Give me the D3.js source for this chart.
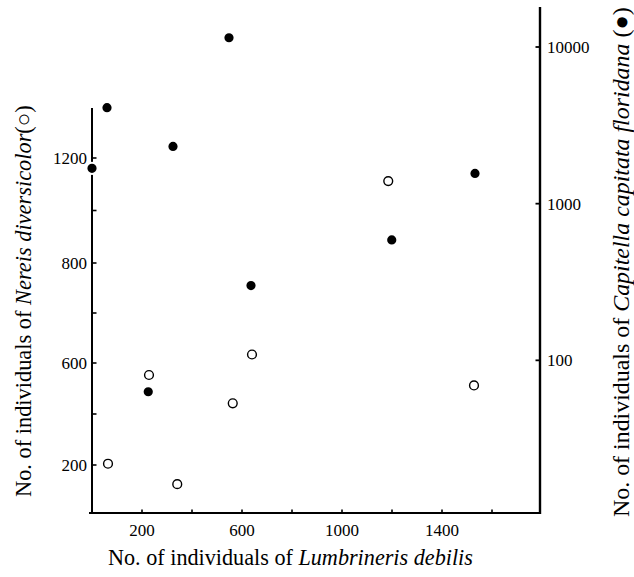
<!DOCTYPE html>
<html>
<head>
<meta charset="utf-8">
<script src="https://cdn.jsdelivr.net/npm/d3@7"></script>
<style>
  html, body { margin: 0; padding: 0; background: #fff; }
  svg { display: block; }
  text { font-family: "Liberation Serif", "Times New Roman", serif; fill: #000; }
</style>
</head>
<body>
<svg id="chart" width="634" height="577"></svg>
<script>
// ---- data ----
// Capitella capitata floridana (filled dots, right log axis)
const capitellaX = [0, 60, 225, 324, 548, 636, 1199, 1532];
const capitellaY = [1680, 4100, 63, 2320, 11460, 300, 587, 1560];
// Nereis diversicolor (open circles, left axis)
const nereisX = [64, 228, 341, 563, 640, 1185, 1528];
const nereisY = [205, 553, 125, 442, 617, 1112, 512];

// tick labels
const xTicks = [200, 400, 600, 800, 1000, 1200, 1400, 1600];
const xTickLabels = [200, 600, 1000, 1400];
const leftTicks = [1200, 1000, 800, 700, 600, 400, 200];
const leftTickLabels = [1200, 800, 600, 200];
const leftScaleBreaks = [200, 600, 800, 1200];
const rightTicks = [100, 1000, 10000];

const xTitle = ["No. of individuals of ", "Lumbrineris debilis"];
const leftTitle = ["No. of individuals of ", "Nereis diversicolor", "(\u25CB)"];
const rightTitle = ["No. of individuals of ", "Capitella capitata floridana", " (\u25CF)"];

// ---- layout ----
const svg = d3.select("#chart");
const x = d3.scaleLinear().domain([0, 1600]).range([92, 492]);
const yL = d3.scaleLinear().domain(leftScaleBreaks).range([465, 363, 263, 158]);
const yR = d3.scaleLog().domain([10, 10000]).range([517, 47]);

const axisX0 = 89, axisX1 = 540, axisY = 513;
const leftX = 92, leftTop = 108;
const rightX = 540, rightTop = 7;
const tickFont = 17;

// axis lines
svg.append("line").attr("x1", axisX0).attr("x2", axisX1 + 1).attr("y1", axisY).attr("y2", axisY)
  .attr("stroke", "#000").attr("stroke-width", 2);
svg.append("line").attr("x1", leftX).attr("x2", leftX).attr("y1", leftTop).attr("y2", axisY)
  .attr("stroke", "#000").attr("stroke-width", 2);
svg.append("line").attr("x1", rightX).attr("x2", rightX).attr("y1", rightTop).attr("y2", axisY + 1)
  .attr("stroke", "#000").attr("stroke-width", 2.4);

// bottom ticks (inward)
svg.selectAll(".xt").data(xTicks).enter().append("line")
  .attr("x1", d => x(d)).attr("x2", d => x(d))
  .attr("y1", axisY).attr("y2", axisY - 3.5)
  .attr("stroke", "#000").attr("stroke-width", 1.6);
svg.selectAll(".xl").data(xTickLabels).enter().append("text")
  .attr("x", d => x(d)).attr("y", 536)
  .attr("text-anchor", "middle").attr("font-size", tickFont)
  .text(d => d);

// left ticks (inward)
svg.selectAll(".lt").data(leftTicks).enter().append("line")
  .attr("x1", leftX).attr("x2", leftX + 4.5)
  .attr("y1", d => yL(d)).attr("y2", d => yL(d))
  .attr("stroke", "#000").attr("stroke-width", 1.6);
svg.selectAll(".ll").data(leftTickLabels).enter().append("text")
  .attr("x", 87).attr("y", d => yL(d)).attr("dy", "0.35em")
  .attr("text-anchor", "end").attr("font-size", tickFont)
  .text(d => d);

// right ticks (inward)
svg.selectAll(".rt").data(rightTicks).enter().append("line")
  .attr("x1", rightX).attr("x2", rightX - 4.5)
  .attr("y1", d => yR(d)).attr("y2", d => yR(d))
  .attr("stroke", "#000").attr("stroke-width", 1.8);
svg.selectAll(".rl").data(rightTicks).enter().append("text")
  .attr("x", 547).attr("y", d => yR(d)).attr("dy", "0.35em")
  .attr("text-anchor", "start").attr("font-size", tickFont)
  .text(d => d);

// points
const open = nereisX.map((v, i) => ({x: v, y: nereisY[i]}));
const filled = capitellaX.map((v, i) => ({x: v, y: capitellaY[i]}));
svg.selectAll(".open").data(open).enter().append("circle")
  .attr("cx", d => x(d.x)).attr("cy", d => yL(d.y)).attr("r", 4.4)
  .attr("fill", "#fff").attr("stroke", "#000").attr("stroke-width", 1.4);
svg.selectAll(".filled").data(filled).enter().append("circle")
  .attr("cx", d => x(d.x)).attr("cy", d => yR(d.y)).attr("r", 5.6)
  .attr("fill", "#000").attr("stroke", "#fff").attr("stroke-width", 2);

// titles with fitted length
function title(parts, italicIdx, fontSize, targetLen) {
  const t = svg.append("text").attr("font-size", fontSize);
  parts.forEach((p, i) => {
    t.append("tspan").attr("font-style", i === italicIdx ? "italic" : "normal").text(p);
  });
  const len = t.node().getComputedTextLength();
  t.attr("font-size", fontSize * targetLen / len);
  return t;
}
const xt = title(xTitle, 1, 18, 365);
xt.attr("x", 108).attr("y", 565);

const lt = title(leftTitle, 1, 18, 392);
lt.attr("text-anchor", "start").attr("transform", "translate(31,497) rotate(-90)");

const rt = title(rightTitle, 1, 20, 510);
rt.attr("text-anchor", "start").attr("transform", "translate(629,517) rotate(-90)");
</script>
</body>
</html>
